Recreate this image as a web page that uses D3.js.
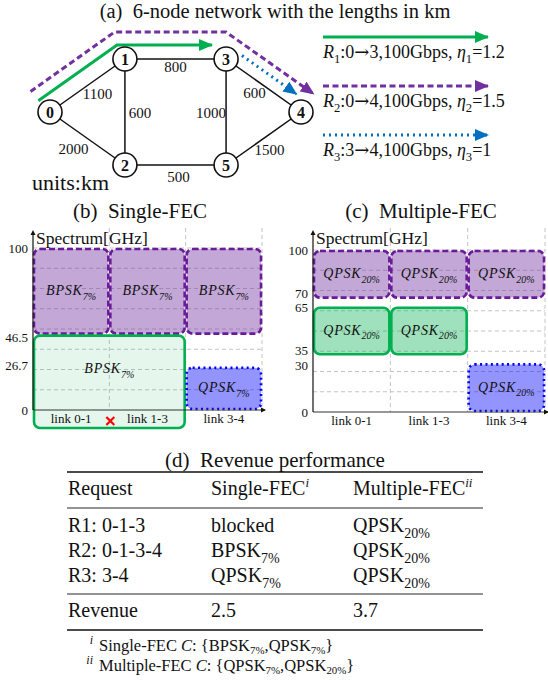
<!DOCTYPE html>
<meta charset="utf-8">
<style>
body { margin: 0; background: #fff; }
text { font-family: "Liberation Serif", "Times New Roman", serif; fill: #111; }
</style>
<body>
<div id="fig"></div>
<script src="https://d3js.org/d3.v7.min.js"></script>
<script>

// ---- data ----
var nodes = [
  {id: 0, gx: 0,    gy: 1},
  {id: 1, gx: 1,    gy: 0},
  {id: 2, gx: 1,    gy: 2},
  {id: 3, gx: 2.35, gy: 0},
  {id: 4, gx: 3.35, gy: 1},
  {id: 5, gx: 2.35, gy: 2}
];
var edges = [[0,1,1100],[0,2,2000],[1,3,800],[1,2,600],[3,5,1000],[3,4,600],[2,5,500],[5,4,1500]];
var requests = [
  {id: 1, path: [0,1,3],   src: 0, dst: 3, rate: "100Gbps", eta: "1.2"},
  {id: 2, path: [0,1,3,4], src: 0, dst: 4, rate: "100Gbps", eta: "1.5"},
  {id: 3, path: [3,4],     src: 3, dst: 4, rate: "100Gbps", eta: "1"}
];

var linkNames = ["link 0-1", "link 1-3", "link 3-4"];
var singleTicks = [0, 26.7, 46.5, 100];
var multiTicks = [0, 30, 35, 65, 70, 100];
var singleFEC = [
  {req: 2, links: ["link 0-1"], lo: 46.5, hi: 100, mod: "BPSK", fec: "7%"},
  {req: 2, links: ["link 1-3"], lo: 46.5, hi: 100, mod: "BPSK", fec: "7%"},
  {req: 2, links: ["link 3-4"], lo: 46.5, hi: 100, mod: "BPSK", fec: "7%"},
  {req: 1, links: ["link 0-1", "link 1-3"], lo: 0, hi: 46.5, mod: "BPSK", fec: "7%", blocked: true},
  {req: 3, links: ["link 3-4"], lo: 0, hi: 26.7, mod: "QPSK", fec: "7%"}
];
var multiFEC = [
  {req: 2, links: ["link 0-1"], lo: 70, hi: 100, mod: "QPSK", fec: "20%"},
  {req: 2, links: ["link 1-3"], lo: 70, hi: 100, mod: "QPSK", fec: "20%"},
  {req: 2, links: ["link 3-4"], lo: 70, hi: 100, mod: "QPSK", fec: "20%"},
  {req: 1, links: ["link 0-1"], lo: 35, hi: 65, mod: "QPSK", fec: "20%"},
  {req: 1, links: ["link 1-3"], lo: 35, hi: 65, mod: "QPSK", fec: "20%"},
  {req: 3, links: ["link 3-4"], lo: 0, hi: 30, mod: "QPSK", fec: "20%"}
];

var tableHead = [["Request", ""], ["Single-FEC", "i"], ["Multiple-FEC", "ii"]];
var rowNames = ["R1: 0-1-3", "R2: 0-1-3-4", "R3: 3-4"];
var singleCol = [["blocked", ""], ["BPSK", "7%"], ["QPSK", "7%"]];
var multiCol = [["QPSK", "20%"], ["QPSK", "20%"], ["QPSK", "20%"]];
var revenue = ["2.5", "3.7"];
var footnotes = [
  {mark: "i",  name: "Single-FEC",   set: [["BPSK","7%"],["QPSK","7%"]]},
  {mark: "ii", name: "Multiple-FEC", set: [["QPSK","7%"],["QPSK","20%"]]}
];

// ---- styles ----
var reqStyle = {
  1: {stroke: "#00b050", dash: null,    fill: "#00b050"},
  2: {stroke: "#7030a0", dash: "6,3.5", fill: "#7030a0"},
  3: {stroke: "#0070c0", dash: "2,4",   fill: "#0000ff"}
};
var boxStroke = {1: "#00b050", 2: "#6a1b9a", 3: "#0000ff"};
var boxDash = {1: null, 2: "6,3", 3: "2,3.4"};

var W = 548, H = 681;
var svg = d3.select("#fig").append("svg").attr("width", W).attr("height", H);

// rich text: parts [{t, it, sub, sup, fs, ff}]
function rich(g, x, y, parts, size, anchor, drop) {
  var t = g.append("text").attr("x", x).attr("y", y)
    .attr("font-size", size).attr("text-anchor", anchor || "start");
  var shift = 0;
  parts.forEach(function(p){
    var target = p.sub ? size * (drop || 0.3) : p.sup ? -size * 0.38 : 0;
    var ts = t.append("tspan").text(p.t).attr("dy", target - shift);
    shift = target;
    if (p.sub || p.sup) ts.attr("font-size", size * (p.fs || 0.7));
    if (p.it) ts.attr("font-style", "italic");
    if (p.ls) ts.attr("letter-spacing", p.ls);
    if (p.ff) ts.style("font-family", p.ff);
  });
  return t;
}

var defs = svg.append("defs");
[1,2,3].forEach(function(k){
  defs.append("marker").attr("id", "arr" + k)
    .attr("markerUnits", "userSpaceOnUse")
    .attr("viewBox", "0 0 14 12").attr("markerWidth", 14).attr("markerHeight", 12)
    .attr("refX", 13).attr("refY", 6).attr("orient", "auto")
    .append("path").attr("d", "M0,0 L14,6 L0,12 Z").attr("fill", reqStyle[k].stroke);
});

// ---- (a) network ----
svg.append("text").attr("x", 275).attr("y", 18).attr("text-anchor", "middle")
  .attr("font-size", 20.5).text("(a)\u20026-node network with the lengths in km");

var nx = d3.scaleLinear().domain([0, 3.35]).range([50, 301]);
var ny = d3.scaleLinear().domain([0, 2]).range([59, 165]);
var P = function(id){ var n = nodes[id]; return [nx(n.gx), ny(n.gy)]; };

var net = svg.append("g");
var labelOff = {"0-1": [10, 8], "0-2": [-14, 10], "1-3": [0, 8], "1-2": [15, 1],
                "3-5": [-15, 1], "3-4": [-9, 7], "2-5": [3, 12], "5-4": [6, 11]};
edges.forEach(function(e){
  var a = P(e[0]), b = P(e[1]);
  net.append("line").attr("x1", a[0]).attr("y1", a[1]).attr("x2", b[0]).attr("y2", b[1])
    .attr("stroke", "#111").attr("stroke-width", 1.5);
  var o = labelOff[e[0] + "-" + e[1]];
  net.append("text").attr("x", (a[0] + b[0]) / 2 + o[0]).attr("y", (a[1] + b[1]) / 2 + o[1])
    .attr("dy", "0.35em").attr("text-anchor", "middle").attr("font-size", 15)
    .attr("fill", "#222").text(e[2]);
});

// route drawn above the node path, one offset per segment
function route(path, offs, t0, t1) {
  var pts = path.map(P), n = [], d = [], a = [];
  for (var i = 0; i < pts.length - 1; i++) {
    var dx = pts[i+1][0] - pts[i][0], dy = pts[i+1][1] - pts[i][1], L = Math.hypot(dx, dy);
    d.push([dx/L, dy/L]); n.push([dy/L, -dx/L]);
    a.push([pts[i][0] + offs[i]*n[i][0], pts[i][1] + offs[i]*n[i][1]]);
  }
  var out = [[a[0][0] + t0*d[0][0], a[0][1] + t0*d[0][1]]];
  for (var j = 1; j < pts.length - 1; j++) {
    var p = a[j-1], q = a[j], u = d[j-1], v = d[j];
    var cr = u[0]*v[1] - u[1]*v[0];
    var s = ((q[0]-p[0])*v[1] - (q[1]-p[1])*v[0]) / cr;
    out.push([p[0] + s*u[0], p[1] + s*u[1]]);
  }
  var k = pts.length - 2, e = pts[pts.length - 1];
  out.push([e[0] + offs[k]*n[k][0] - t1*d[k][0], e[1] + offs[k]*n[k][1] - t1*d[k][1]]);
  return out;
}
var routeLayout = {1: [[16, 14], -3, 14], 2: [[28, 27, 22], -4, 0], 3: [[12], 11, 14]};
requests.forEach(function(r){
  var L = routeLayout[r.id], s = reqStyle[r.id];
  net.append("path").attr("d", d3.line()(route(r.path, L[0], L[1], L[2])))
    .attr("fill", "none").attr("stroke", s.stroke).attr("stroke-width", 3)
    .attr("stroke-dasharray", s.dash).attr("marker-end", "url(#arr" + r.id + ")");
});

var ng = net.selectAll("g.node").data(nodes).enter().append("g")
  .attr("transform", function(d){ return "translate(" + P(d.id) + ")"; });
ng.append("circle").attr("r", 12).attr("fill", "#fff").attr("stroke", "#111").attr("stroke-width", 1.6);
ng.append("text").attr("text-anchor", "middle").attr("dy", "0.35em").attr("font-size", 16)
  .attr("font-weight", "bold").text(function(d){ return d.id; });

net.append("text").attr("x", 32).attr("y", 190).attr("font-size", 22).text("units:km");

// legend
requests.forEach(function(r, i){
  var s = reqStyle[r.id], y = 37 + i * 49;
  net.append("line").attr("x1", 323).attr("x2", 488).attr("y1", y).attr("y2", y)
    .attr("stroke", s.stroke).attr("stroke-width", 3).attr("stroke-dasharray", s.dash)
    .attr("marker-end", "url(#arr" + r.id + ")");
  rich(net, 323, y + 21, [
    {t: "R", it: true}, {t: String(r.id), sub: true},
    {t: ":" + r.src}, {t: "\u2192", ff: "DejaVu Serif"}, {t: r.dst + "," + r.rate + ", "},
    {t: "\u03b7", it: true}, {t: String(r.id), sub: true},
    {t: "=" + r.eta}
  ], 18);
});

// ---- (b),(c) spectrum panels ----
function panel(cfg, alloc, ticks) {
  var g = svg.append("g");
  g.append("text").attr("x", cfg.tx).attr("y", 218).attr("text-anchor", "middle")
    .attr("font-size", 21).text(cfg.title);

  var x = d3.scaleBand().domain(linkNames).range([cfg.x0, cfg.x1]);
  var y = d3.scaleLinear().domain([0, 100]).range([cfg.y0, cfg.y1]);

  // grid
  var grid = g.append("g").attr("stroke", "#c4c4c4").attr("stroke-width", 1).attr("stroke-dasharray", "4,3");
  d3.range(12.5, 100.1, 12.5).forEach(function(v){
    grid.append("line").attr("x1", cfg.x0).attr("x2", cfg.x1).attr("y1", y(v)).attr("y2", y(v));
  });
  linkNames.forEach(function(l){
    var xx = x(l) + x.bandwidth();
    grid.append("line").attr("x1", xx).attr("x2", xx).attr("y1", 228).attr("y2", cfg.y0);
  });

  // boxes
  alloc.forEach(function(a){
    var xa = x(a.links[0]) + 1, xb = x(a.links[a.links.length-1]) + x.bandwidth() - 1;
    var ya = y(a.hi) + 1, yb = a.blocked ? cfg.y0 + 18 : y(a.lo) - 1;
    g.append("rect").attr("x", xa).attr("y", ya).attr("width", xb - xa).attr("height", yb - ya)
      .attr("rx", 6).attr("fill", reqStyle[a.req].fill)
      .attr("fill-opacity", a.blocked ? 0.1 : a.req === 1 ? 0.38 : 0.42)
      .attr("stroke", boxStroke[a.req]).attr("stroke-width", 2.6)
      .attr("stroke-dasharray", boxDash[a.req]);
    var cy = (y(a.hi) + y(a.lo)) / 2 - (a.blocked ? 3 : 0);
    rich(g, (xa + xb) / 2, cy + 4, [
      {t: a.mod, it: true, ls: 0.8}, {t: a.fec, sub: true, it: true, fs: 0.72}
    ], 14, "middle").attr("fill", a.blocked ? "#555" : "#333");
  });

  // axes
  var ya = g.append("g").attr("transform", "translate(" + cfg.x0 + ",0)")
    .call(d3.axisLeft(y).tickValues(ticks).tickSize(0).tickPadding(5).tickFormat(function(d){ return d; }));
  ya.select(".domain").remove();
  ya.attr("font-family", null).attr("font-size", 13);
  ya.selectAll("text").attr("fill", "#111")
    .attr("transform", function(d){ return "translate(0," + (cfg.nudge[d] || 0) + ")"; });
  var xa = g.append("g").attr("transform", "translate(0," + cfg.y0 + ")")
    .call(d3.axisBottom(x).tickSize(0).tickPadding(4));
  xa.select(".domain").remove();
  xa.attr("font-family", null).attr("font-size", 13);
  xa.selectAll("text").attr("fill", "#111");

  g.append("line").attr("x1", cfg.x0).attr("x2", cfg.x1 + 3).attr("y1", cfg.y0).attr("y2", cfg.y0)
    .attr("stroke", "#333").attr("stroke-width", 1.2);
  g.append("path").attr("d", "M" + (cfg.x1 + 4) + "," + cfg.y0 + " l-5,-2.5 l0,5 Z").attr("fill", "#111");
  g.append("line").attr("x1", cfg.x0).attr("x2", cfg.x0).attr("y1", cfg.y0).attr("y2", 233)
    .attr("stroke", "#111").attr("stroke-width", 1.2);
  g.append("path").attr("d", "M" + cfg.x0 + ",230 l-2.5,5 l5,0 Z").attr("fill", "#111");
  g.append("text").attr("x", cfg.x0 + 3).attr("y", 244).attr("font-size", 17.5).text("Spectrum[GHz]");
  return {g: g, x: x, y: y};
}

var pb = panel({x0: 33, x1: 262, y0: 410, y1: 248, tx: 140, title: "(b)\u2002Single-FEC", nudge: {46.5: 3, 26.7: -1}},
  singleFEC, singleTicks);
panel({x0: 313, x1: 545, y0: 412, y1: 250, tx: 421, title: "(c)\u2002Multiple-FEC", nudge: {70: -5, 65: 1, 35: -5, 30: 2}},
  multiFEC, multiTicks);

// blocked mark
var bx = pb.x(linkNames[1]) + 1, by = 421;
pb.g.append("path").attr("d", "M" + (bx-4) + "," + (by-4) + "L" + (bx+4) + "," + (by+4) +
  "M" + (bx+4) + "," + (by-4) + "L" + (bx-4) + "," + (by+4))
  .attr("stroke", "#ff0000").attr("stroke-width", 2.2);

// ---- (d) table ----
var tg = svg.append("g");
tg.append("text").attr("x", 275).attr("y", 467).attr("text-anchor", "middle")
  .attr("font-size", 21).text("(d)\u2002Revenue performance");

var colX = [68, 211, 353];
[[472, 1.6], [508, 0.9], [594, 0.9], [630, 1.6]].forEach(function(r){
  tg.append("line").attr("x1", 67).attr("x2", 483).attr("y1", r[0]).attr("y2", r[0])
    .attr("stroke", "#111").attr("stroke-width", r[1]);
});
tableHead.forEach(function(h, i){
  rich(tg, colX[i], 495, [{t: h[0]}, {t: h[1], sup: true, it: true, fs: 0.65}], 20);
});
var rowY = [532, 557, 582];
rowNames.forEach(function(r, i){
  rich(tg, colX[0], rowY[i], [{t: r}], 20);
  rich(tg, colX[1], rowY[i], [{t: singleCol[i][0]}, {t: singleCol[i][1], sub: true}], 20);
  rich(tg, colX[2], rowY[i], [{t: multiCol[i][0]}, {t: multiCol[i][1], sub: true}], 20);
});
rich(tg, colX[0], 617, [{t: "Revenue"}], 20);
rich(tg, colX[1], 617, [{t: revenue[0]}], 20);
rich(tg, colX[2], 617, [{t: revenue[1]}], 20);

footnotes.forEach(function(f, i){
  var yy = 651 + i * 20;
  tg.append("text").attr("x", 93).attr("y", yy - 7).attr("text-anchor", "end")
    .attr("font-size", 12).attr("font-style", "italic").text(f.mark);
  var parts = [{t: f.name + " "}, {t: "C", it: true}, {t: ": {"}];
  f.set.forEach(function(s, j){
    parts.push({t: s[0]}); parts.push({t: s[1], sub: true, fs: 0.66});
    parts.push({t: j < f.set.length - 1 ? "," : "}"});
  });
  rich(tg, 99, yy, parts, 16.5, "start", 0.2);
});

</script>
</body>
